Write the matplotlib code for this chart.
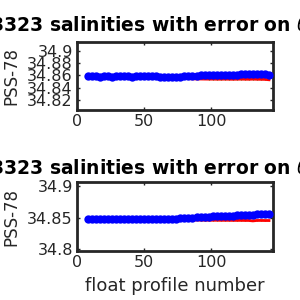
import numpy as np
import matplotlib.pyplot as plt

# float profile numbers (every third profile)
profiles = list(range(8, 144, 3))

# theta level 1: uncalibrated (blue) and calibrated (red) salinity
sal_unc_1 = [34.8585, 34.8583, 34.8585, 34.8582, 34.8583, 34.8584, 34.8582, 34.8583,
             34.8584, 34.8583, 34.8585, 34.8582, 34.8583, 34.8584, 34.8585, 34.8586,
             34.8588, 34.8586, 34.8582, 34.8577, 34.8573, 34.8570, 34.8576, 34.8582,
             34.8586, 34.8590, 34.8594, 34.8597, 34.8599, 34.8602, 34.8605, 34.8607,
             34.8609, 34.8611, 34.8613, 34.8612, 34.8615, 34.8614, 34.8617, 34.8620,
             34.8617, 34.8620, 34.8622, 34.8625, 34.8628, 34.8612]
sal_cal_1 = [34.8580, 34.8578, 34.8580, 34.8577, 34.8578, 34.8579, 34.8577, 34.8578,
             34.8579, 34.8578, 34.8580, 34.8577, 34.8578, 34.8579, 34.8580, 34.8580,
             34.8581, 34.8579, 34.8575, 34.8570, 34.8564, 34.8558, 34.8556, 34.8554,
             34.8551, 34.8548, 34.8545, 34.8543, 34.8542, 34.8541, 34.8540, 34.8540,
             34.8539, 34.8539, 34.8540, 34.8539, 34.8538, 34.8539, 34.8540, 34.8539,
             34.8538, 34.8540, 34.8538, 34.8537, 34.8536, 34.8530]
err_cal_1 = [0.0006] * 46

# theta level 2
sal_unc_2 = [34.8480, 34.8479, 34.8480, 34.8478, 34.8479, 34.8480, 34.8479, 34.8480,
             34.8479, 34.8480, 34.8481, 34.8480, 34.8481, 34.8482, 34.8481, 34.8482,
             34.8483, 34.8482, 34.8481, 34.8480, 34.8479, 34.8481, 34.8484, 34.8488,
             34.8492, 34.8497, 34.8502, 34.8506, 34.8510, 34.8514, 34.8518, 34.8522,
             34.8525, 34.8528, 34.8530, 34.8533, 34.8532, 34.8535, 34.8537, 34.8539,
             34.8541, 34.8540, 34.8556, 34.8560, 34.8563, 34.8565]
sal_cal_2 = [34.8468, 34.8467, 34.8468, 34.8466, 34.8467, 34.8468, 34.8467, 34.8468,
             34.8467, 34.8468, 34.8468, 34.8467, 34.8468, 34.8469, 34.8468, 34.8469,
             34.8469, 34.8468, 34.8467, 34.8466, 34.8465, 34.8466, 34.8467, 34.8466,
             34.8465, 34.8464, 34.8463, 34.8462, 34.8461, 34.8460, 34.8460, 34.8459,
             34.8459, 34.8458, 34.8458, 34.8458, 34.8457, 34.8457, 34.8457, 34.8456,
             34.8456, 34.8449, 34.8456, 34.8456, 34.8455, 34.8455]
err_cal_2 = [0.0006] * 46

yticks_1 = [34.82, 34.84, 34.86, 34.88, 34.9]
yticks_2 = [34.8, 34.85, 34.9]
xticks = [0, 50, 100]

title_prefix = 'Float 6903323 '
title = title_prefix + r'salinities with error on $\theta$ = 2.5$^o$C'
dark = '#262626'

fig = plt.figure(figsize=(3, 3), dpi=100)
ax1 = fig.add_axes([0.257, 0.633, 0.653, 0.227])
ax2 = fig.add_axes([0.257, 0.163, 0.653, 0.229])

panels = [(ax1, sal_unc_1, sal_cal_1, err_cal_1, yticks_1, (34.804, 34.914), 0.893),
          (ax2, sal_unc_2, sal_cal_2, err_cal_2, yticks_2, (34.797, 34.906), 0.417)]

# width of the title prefix, so that "salinities" starts where it does in the original
renderer = fig.canvas.get_renderer()
probe = fig.text(0, 0, title_prefix, fontsize=13.5, fontweight='bold')
prefix_w = probe.get_window_extent(renderer).width / fig.bbox.width
probe.remove()
title_x = 49 / 300 - prefix_w

for ax, unc, cal, err, yt, ylim, ty in panels:
    ax.errorbar(profiles, cal, yerr=err, color='r', ecolor='#00cc00',
                elinewidth=0.8, linewidth=2, capsize=0, zorder=2)
    ax.plot(profiles, unc, '-', color='#0000ff', marker='o', markersize=6,
            markeredgewidth=0, linewidth=1.5, zorder=3)
    ax.set_xlim(0, 146)
    ax.set_ylim(*ylim)
    ax.set_xticks(xticks)
    ax.set_yticks(yt)
    ax.set_yticklabels([f'{v:g}' for v in yt])
    ax.tick_params(direction='in', length=2.5, width=1, colors=dark,
                   labelsize=11.5, top=True, right=True, pad=3)
    for s in ax.spines.values():
        s.set_linewidth(2)
        s.set_color(dark)
    ax.set_ylabel('PSS-78', fontsize=12, color=dark)
    ax.yaxis.set_label_coords(-0.29, 0.5)
    fig.text(title_x, ty, title, fontsize=13.5, fontweight='bold', ha='left')

ax2.set_xlabel('float profile number', fontsize=13, color=dark, labelpad=5)

fig.savefig('out.png', dpi=100)
